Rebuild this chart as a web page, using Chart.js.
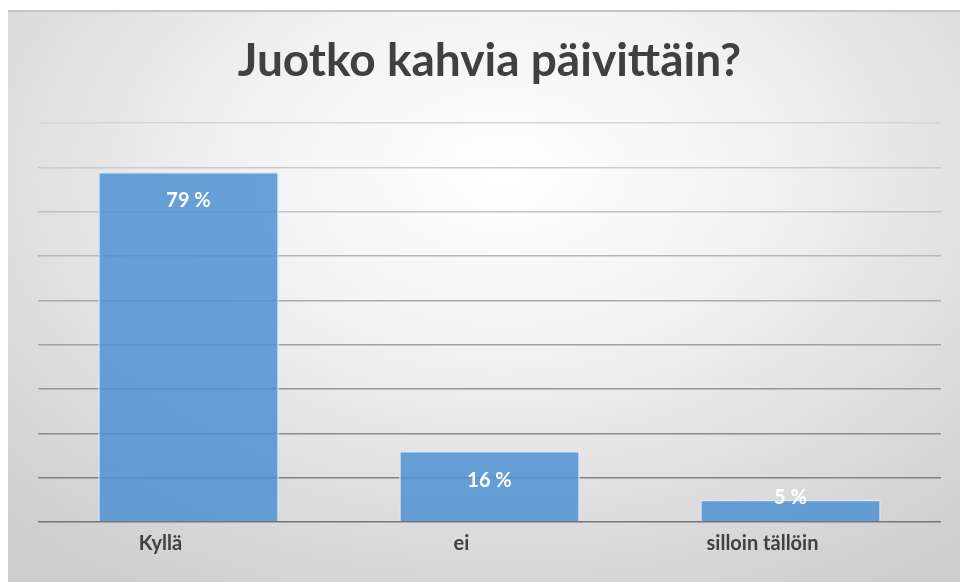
<!DOCTYPE html>
<html>
<head>
<meta charset="utf-8">
<script src="https://cdn.jsdelivr.net/npm/chart.js@4"></script>
<style>
    html, body { margin: 0; padding: 0; background: #ffffff; }
    #panel {
        position: absolute;
        left: 8px; top: 10px;
        width: 952px; height: 572px;
        border-top: 2px solid #c6c6c6;
        background: radial-gradient(ellipse 75% 85% at 52% 28%, #ffffff 0%, #f3f3f3 35%, #dedede 70%, #cecece 100%);
    }
    #wrap { position: absolute; left: 0; top: 0; width: 960px; height: 582px; }
</style>
</head>
<body>
<div id="panel"></div>
<div id="wrap"><canvas id="coffeeChart" width="960" height="582"></canvas></div>
<script>
    const titleText = 'Juotko kahvia päivittäin?';
    const categories = ['Kyllä', 'ei', 'silloin tällöin'];
    const shares = [79, 16, 5];
    const axisMax = 90;
    const axisStep = 10;

    const FONT = 'Lato, "Open Sans", sans-serif';
    const TEXT_DARK = '#404040';

    // prosenttiluvut palkkien sisäpäähän
    const barLabels = {
        id: 'barLabels',
        afterDatasetsDraw(chart) {
            const ctx = chart.ctx;
            const meta = chart.getDatasetMeta(0);
            const base = chart.scales.y.getPixelForValue(0);
            ctx.save();
            ctx.font = 'bold 20px ' + FONT;
            ctx.fillStyle = '#ffffff';
            ctx.textAlign = 'center';
            ctx.textBaseline = 'middle';
            meta.data.forEach((bar, i) => {
                const y = Math.min(bar.y + 29, base - 24);
                ctx.fillText(shares[i] + ' %', bar.x, y);
            });
            ctx.restore();
        }
    };

    // vaakaviivat tummenevat alaspäin
    function gridColor(context) {
        const t = context.index / (axisMax / axisStep);
        const dark = 118, light = 214;
        const c = Math.round(dark + (light - dark) * t);
        return 'rgb(' + c + ',' + c + ',' + c + ')';
    }

    const ctx = document.getElementById('coffeeChart').getContext('2d');
    new Chart(ctx, {
        type: 'bar',
        data: {
            labels: categories,
            datasets: [{
                data: shares,
                backgroundColor: 'rgba(79, 145, 210, 0.85)',
                borderColor: 'rgba(215, 232, 250, 0.95)',
                borderWidth: 1.5,
                barPercentage: 0.6,
                categoryPercentage: 1.0
            }]
        },
        options: {
            responsive: false,
            animation: false,
            layout: {
                padding: { top: 0, right: 19, bottom: 24, left: 38 }
            },
            plugins: {
                legend: { display: false },
                tooltip: { enabled: false },
                title: {
                    display: true,
                    text: titleText,
                    color: TEXT_DARK,
                    font: { family: FONT, size: 46, weight: 'bold' },
                    padding: { top: 34, bottom: 34 }
                }
            },
            scales: {
                x: {
                    grid: { display: false },
                    border: { display: false },
                    ticks: {
                        color: TEXT_DARK,
                        font: { family: FONT, size: 20, weight: 'bold' },
                        padding: 2,
                        labelOffset: -28
                    }
                },
                y: {
                    min: 0,
                    max: axisMax,
                    border: { display: false },
                    grid: {
                        color: gridColor,
                        lineWidth: 1.6,
                        drawTicks: false
                    },
                    ticks: { display: false, stepSize: axisStep }
                }
            }
        },
        plugins: [barLabels]
    });
</script>
</body>
</html>
